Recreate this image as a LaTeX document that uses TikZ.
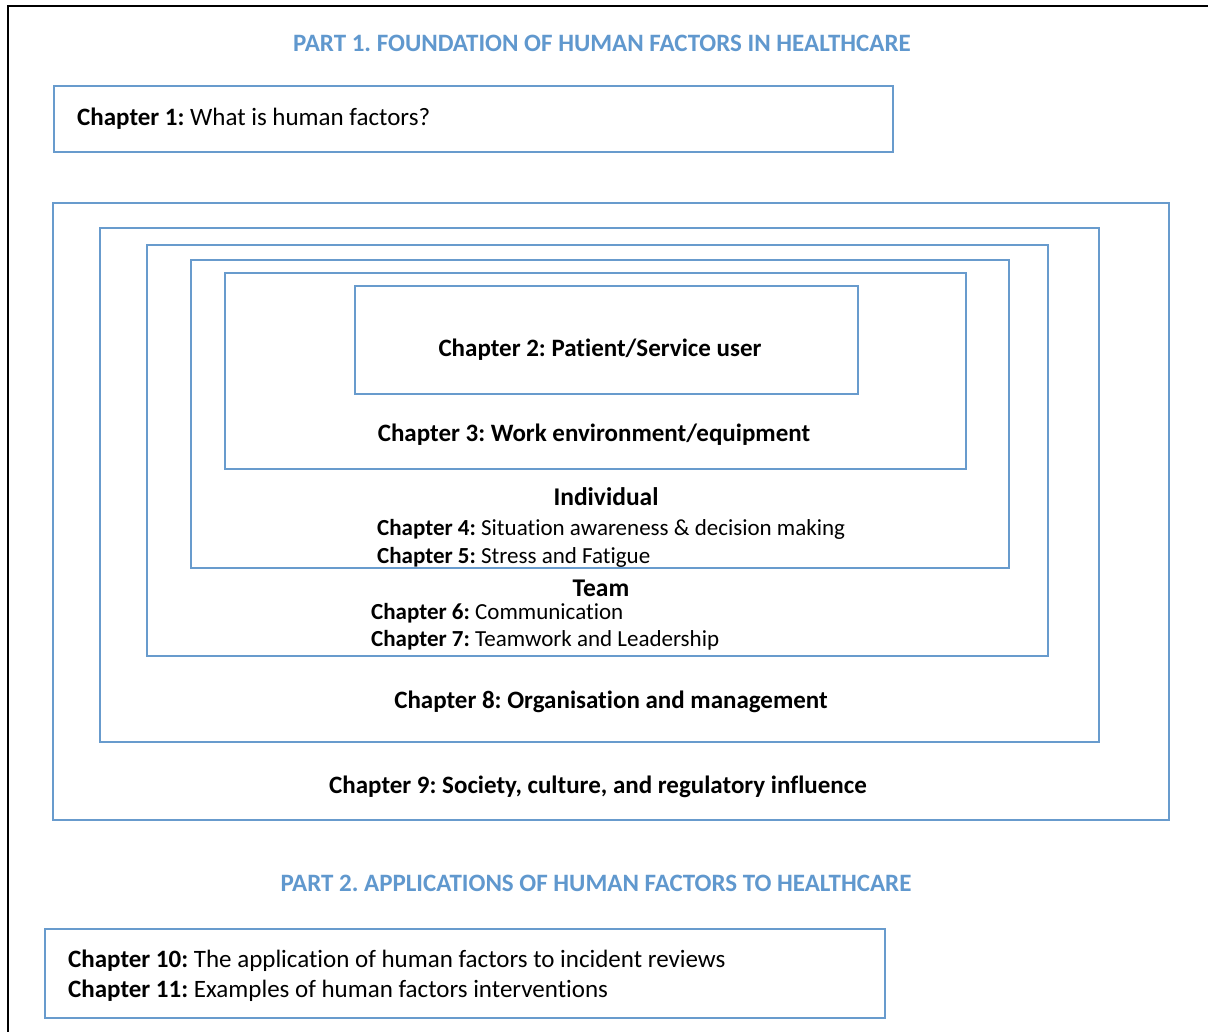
\documentclass[tikz,border=0pt]{standalone}
\usepackage{fontspec}
\setmainfont[Ligatures=NoCommon]{Carlito}
\definecolor{frameblue}{RGB}{104,155,205}
\definecolor{titleblue}{RGB}{96,152,206}
\frenchspacing
\begin{document}
\begin{tikzpicture}[x=1pt,y=-1pt,
  box/.style={draw=frameblue,line width=2pt},
  txt/.style={inner sep=0pt,font=\fontsize{25}{29}\selectfont,text=black},
  small/.style={inner sep=0pt,font=\fontsize{23}{27}\selectfont,text=black},
  part/.style={inner sep=0pt,font=\fontsize{25}{29}\selectfont\bfseries,text=titleblue},
  head/.style={inner sep=0pt,font=\fontsize{25.5}{30}\selectfont\bfseries,text=black}]
  % canvas and the black frame on the top and left edges
  \useasboundingbox (0,0) rectangle (1208,1032);
  \fill[white] (0,0) rectangle (1208,1032);
  \draw[black,line width=2pt] (8,1032) -- (8,6) -- (1208,6);

  % Part 1 heading and chapter 1
  \node[part,anchor=base] (part1) at (602,52) {PART 1. FOUNDATION OF HUMAN FACTORS IN HEALTHCARE};
  \draw[box] (54,86) rectangle (893,152);
  \node[txt,anchor=base west] (ch1) at (77,126) {\textbf{Chapter 1:} What is human factors?};

  % nested system levels
  \draw[box] (53,203) rectangle (1169,820);
  \draw[box] (100,228) rectangle (1099,742);
  \draw[box] (147,245) rectangle (1048,656);
  \draw[box] (191,260) rectangle (1009,568);
  \draw[box] (225,273) rectangle (966,469);
  \draw[box] (355,286) rectangle (858,394);

  \node[txt,anchor=base] (ch2) at (600,356) {\textbf{Chapter 2: Patient/Service user}};
  \node[txt,anchor=base] (ch3) at (594,441) {\textbf{Chapter 3: Work environment/equipment}};
  \node[head,anchor=base] (indiv) at (606,505) {Individual};
  \node[small,anchor=base west] (ch4) at (377,535) {\textbf{Chapter 4:} Situation awareness \& decision making};
  \node[small,anchor=base west] (ch5) at (377,563) {\textbf{Chapter 5:} Stress and Fatigue};
  \node[head,anchor=base] (team) at (601,596) {Team};
  \node[small,anchor=base west] (ch6) at (371,619) {\textbf{Chapter 6:} Communication};
  \node[small,anchor=base west] (ch7) at (371,646) {\textbf{Chapter 7:} Teamwork and Leadership};
  \node[txt,anchor=base] (ch8) at (611,708) {\textbf{Chapter 8: Organisation and management}};
  \node[txt,anchor=base] (ch9) at (598,793) {\textbf{Chapter 9: Society, culture, and regulatory influence}};

  % Part 2 heading and chapters 10-11
  \node[part,anchor=base] (part2) at (596,891) {PART 2. APPLICATIONS OF HUMAN FACTORS TO HEALTHCARE};
  \draw[box] (45,929) rectangle (885,1018);
  \node[txt,anchor=base west] (ch10) at (68,967) {\textbf{Chapter 10:} The application of human factors to incident reviews};
  \node[txt,anchor=base west] (ch11) at (68,997) {\textbf{Chapter 11:} Examples of human factors interventions};
\end{tikzpicture}
\end{document}
